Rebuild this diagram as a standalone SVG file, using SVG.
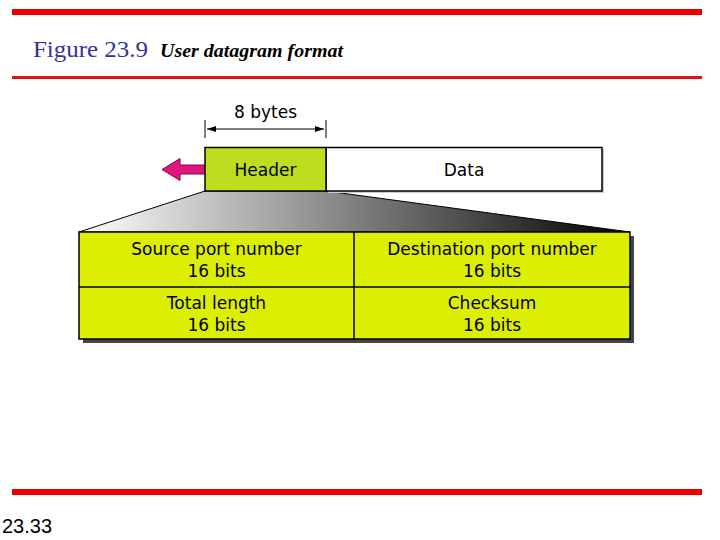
<svg xmlns="http://www.w3.org/2000/svg" width="720" height="540" viewBox="0 0 720 540">
<defs>
<linearGradient id="fan" x1="0" y1="0" x2="1" y2="0">
<stop offset="0" stop-color="#ffffff"/>
<stop offset="1" stop-color="#000000"/>
</linearGradient>
<marker id="dimArrow" markerWidth="10" markerHeight="8" refX="9" refY="4" orient="auto-start-reverse" markerUnits="userSpaceOnUse">
<path d="M0,1 L9,4 L0,7 Z" fill="#000"/>
</marker>
</defs>
<style>
.bar{fill:#ee0000}
.lbl{font-family:"DejaVu Sans","Open Sans",sans-serif;font-size:17px;fill:#000;text-anchor:middle}
.cell{fill:#dcee04;stroke:#000;stroke-width:1.5}
.shadow{fill:#444}
</style>
<rect class="bar" x="12" y="9" width="690" height="6"/>
<rect x="12" y="76" width="690" height="3" fill="#dd1111"/>
<rect class="bar" x="12" y="489" width="690" height="6"/>
<text x="33" y="57" font-family="Liberation Serif,serif" font-size="23" fill="#333399" textLength="115" lengthAdjust="spacingAndGlyphs">Figure 23.9</text>
<text x="160" y="57" font-family="Liberation Serif,serif" font-size="19" font-weight="bold" font-style="italic" fill="#000" textLength="183" lengthAdjust="spacingAndGlyphs">User datagram format</text>
<text x="2" y="533" font-family="Liberation Sans,sans-serif" font-size="21" fill="#000" textLength="50" lengthAdjust="spacingAndGlyphs">23.33</text>

<g id="connectors">
<polygon points="205,191 326,191 630,232 79,232" fill="url(#fan)" stroke="#000" stroke-width="1"/>
<line x1="205" y1="120" x2="205" y2="138" stroke="#000" stroke-width="1"/>
<line x1="326" y1="120" x2="326" y2="138" stroke="#000" stroke-width="1"/>
<line x1="207" y1="129" x2="324" y2="129" stroke="#000" stroke-width="1" marker-start="url(#dimArrow)" marker-end="url(#dimArrow)"/>
<polygon points="162,169.5 180,158.5 180,165 206,165 206,174 180,174 180,180.5" fill="#e0157f" stroke="#7a0a40" stroke-width="1"/>
</g>

<g id="dim-label"><text class="lbl" x="265.5" y="118">8 bytes</text></g>

<g id="data">
<rect x="328" y="149" width="276" height="44" fill="#cccccc"/>
<rect x="326" y="147.5" width="276" height="43.5" fill="#fff" stroke="#000" stroke-width="1.5"/>
<text class="lbl" x="464" y="176">Data</text>
</g>
<g id="header">
<rect x="205" y="147.5" width="121" height="43.5" fill="#bfdc1f" stroke="#000" stroke-width="1.5"/>
<text class="lbl" x="265.5" y="176">Header</text>
</g>

<g id="udp-header">
<rect class="shadow" x="83" y="236" width="551" height="107"/>
<rect class="cell" x="79" y="232" width="551" height="107"/>
<line x1="79" y1="287" x2="630" y2="287" stroke="#000" stroke-width="1.5"/>
<line x1="354" y1="232" x2="354" y2="339" stroke="#000" stroke-width="1.5"/>
</g>
<g id="src-port"><text class="lbl" x="216.5" y="255">Source port number</text><text class="lbl" x="216.5" y="277">16 bits</text></g>
<g id="dst-port"><text class="lbl" x="492" y="255">Destination port number</text><text class="lbl" x="492" y="277">16 bits</text></g>
<g id="total-length"><text class="lbl" x="216.5" y="309">Total length</text><text class="lbl" x="216.5" y="331">16 bits</text></g>
<g id="checksum"><text class="lbl" x="492" y="309">Checksum</text><text class="lbl" x="492" y="331">16 bits</text></g>
</svg>
